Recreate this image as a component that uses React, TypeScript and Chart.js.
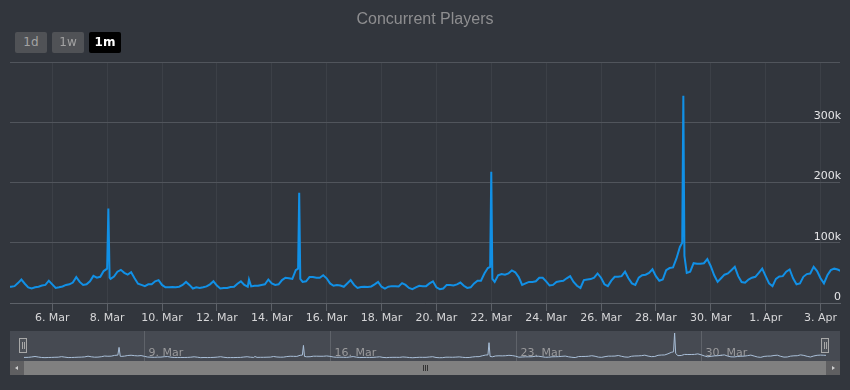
import React, { useEffect, useRef } from 'react';
import { Chart, registerables } from 'chart.js';

Chart.register(...registerables);

// Time axis in days since 1 Mar 00:00 (UTC). Samples every 3 hours from 4 Mar 09:00.
const START_DAY = 3.375;
const STEP_DAYS = 0.125;
const X_MIN = 3.46;
const X_MAX = 33.71;

const players: number[] = [
  // 4 Mar 09h..21h
  27000, 27000, 28000, 33000, 39000,
  // 5 Mar
  32000, 26000, 24000, 26000, 27000, 29000, 30000, 37000,
  // 6 Mar
  31000, 25000, 26000, 27500, 30000, 31000, 34000, 43000,
  // 7 Mar
  35000, 30000, 31000, 36000, 45000, 42000, 43500, 53000,
  // 8 Mar
  57000, 40000, 44000, 52000, 55000, 50000, 47000, 51000,
  // 9 Mar
  41000, 32000, 30000, 28000, 31000, 31000, 36000, 38000,
  // 10 Mar
  30000, 26000, 26000, 26500, 26000, 27000, 30000, 35000,
  // 11 Mar
  30000, 24000, 26000, 25000, 26000, 27500, 31000, 36000,
  // 12 Mar
  29000, 24000, 25000, 25000, 26500, 27000, 32000, 36000,
  // 13 Mar
  30000, 27000, 27500, 28500, 28500, 30000, 31000, 39000,
  // 14 Mar
  32500, 30000, 31000, 38000, 42000, 41000, 40000, 54500,
  // 15 Mar
  183000, 35000, 36000, 43000, 43000, 42000, 42000, 46000,
  // 16 Mar
  41000, 32500, 28600, 30000, 29000, 27000, 32500, 38000,
  // 17 Mar
  30000, 25000, 26500, 27000, 26500, 27500, 31000, 35000,
  // 18 Mar
  27000, 24000, 27000, 28000, 28000, 27500, 33000, 30000,
  // 19 Mar
  25000, 23000, 26000, 28600, 28000, 28000, 32500, 36000,
  // 20 Mar
  26000, 23000, 24000, 30000, 30000, 29000, 31000, 34000,
  // 21 Mar
  28600, 25000, 26000, 32500, 37000, 37000, 49000, 58000,
  // 22 Mar
  218000, 35000, 46000, 48000, 47000, 49000, 54000, 51000,
  // 23 Mar
  43000, 30000, 32500, 35000, 35000, 36000, 42000, 42000,
  // 24 Mar
  36000, 29000, 30000, 35000, 36000, 37000, 41000, 44600,
  // 25 Mar
  35000, 28600, 25000, 38000, 39000, 39700, 42000, 49000,
  // 26 Mar
  42000, 31000, 28000, 37000, 43500, 43500, 44600, 52000,
  // 27 Mar
  41000, 32500, 30000, 42000, 46000, 47000, 50000, 56000,
  // 28 Mar
  44600, 37000, 39000, 54500, 58000, 59000, 74000, 93000,
  // 29 Mar
  344000, 50000, 52000, 66000, 65000, 65000, 66000, 73000,
  // 30 Mar
  61000, 46000, 35000, 41000, 47000, 49000, 54500, 60000,
  // 31 Mar
  44600, 34700, 33600, 39000, 42000, 43500, 50000, 57000,
  // 1 Apr
  44600, 32500, 28000, 40000, 44000, 44600, 52000, 55600,
  // 2 Apr
  41000, 31000, 32500, 43500, 48000, 49000, 60000, 53000,
  // 3 Apr
  41000, 32500, 46000, 54500, 57000, 55600, 53000,
];

// Extra readings around the weekly spikes (day, players)
const spikeDays: number[] = [7.045, 7.09, 12.17, 13.96, 14.04, 20.96, 21.04, 27.96, 28.04];
const spikeValues: number[] = [157000, 42000, 39000, 57000, 40000, 60000, 40000, 100000, 78000];

const xTickDays: number[] = [5, 7, 9, 11, 13, 15, 17, 19, 21, 23, 25, 27, 29, 31, 33];
const xTickLabels: string[] = [
  '6. Mar', '8. Mar', '10. Mar', '12. Mar', '14. Mar', '16. Mar', '18. Mar', '20. Mar',
  '22. Mar', '24. Mar', '26. Mar', '28. Mar', '30. Mar', '1. Apr', '3. Apr',
];
const yTickValues: number[] = [0, 100000, 200000, 300000, 400000];
const yTickLabels: string[] = ['0', '100k', '200k', '300k', ''];
const navTickDays: number[] = [8, 15, 22, 29];
const navTickLabels: string[] = ['9. Mar', '16. Mar', '23. Mar', '30. Mar'];
const rangeButtons: string[] = ['1d', '1w', '1m'];
const selectedRange = '1m';
const chartTitle = 'Concurrent Players';

const BG = '#32363d';
const FONT = 'DejaVu Sans, Verdana, sans-serif';

function buildPoints() {
  const pts = players.map((v, i) => ({ x: START_DAY + i * STEP_DAYS, y: v }));
  spikeDays.forEach((d, i) => pts.push({ x: d, y: spikeValues[i] }));
  pts.sort((a, b) => a.x - b.x);
  return pts;
}

export default function App() {
  const mainRef = useRef<HTMLCanvasElement | null>(null);
  const navRef = useRef<HTMLCanvasElement | null>(null);

  useEffect(() => {
    const points = buildPoints();
    const peak = Math.max(...players);

    const main = new Chart(mainRef.current as HTMLCanvasElement, {
      type: 'line',
      data: {
        datasets: [
          {
            data: points,
            borderColor: '#1190e6',
            borderWidth: 2,
            pointRadius: 0,
            tension: 0,
            fill: false,
          },
        ],
      },
      options: {
        animation: false,
        responsive: false,
        events: [],
        layout: { padding: { left: 10, right: 10, top: 62, bottom: 0 } },
        plugins: { legend: { display: false }, tooltip: { enabled: false }, title: { display: false } },
        scales: {
          x: {
            type: 'linear',
            min: X_MIN,
            max: X_MAX,
            afterBuildTicks: (s: any) => {
              s.ticks = xTickDays.map((v) => ({ value: v }));
            },
            afterFit: (s: any) => {
              s.height = 27;
            },
            ticks: {
              autoSkip: false,
              maxRotation: 0,
              padding: 1,
              color: '#d6d6d8',
              font: { family: FONT, size: 11 },
              callback: (_v: any, i: number) => xTickLabels[i],
            },
            grid: { color: '#3c4047', tickColor: '#5d6168', tickLength: 8, drawTicks: true },
            border: { color: '#5d6168' },
          },
          y: {
            position: 'right',
            min: 0,
            max: 400000,
            afterBuildTicks: (s: any) => {
              s.ticks = yTickValues.map((v) => ({ value: v }));
            },
            afterFit: (s: any) => {
              s.width = 0;
            },
            ticks: {
              mirror: true,
              padding: 1,
              labelOffset: -6,
              color: '#e6e6e8',
              font: { family: FONT, size: 11 },
              callback: (_v: any, i: number) => yTickLabels[i],
            },
            grid: { color: '#51555c', drawTicks: false },
            border: { display: false },
          },
        },
      },
    });

    const navPlugin = {
      id: 'navGrid',
      beforeDatasetsDraw(chart: any) {
        const { ctx, scales, height } = chart;
        const xs = scales.x;
        ctx.save();
        ctx.strokeStyle = '#5f636a';
        ctx.lineWidth = 1;
        ctx.font = `11px ${FONT}`;
        ctx.fillStyle = '#9a9a9c';
        ctx.textBaseline = 'middle';
        ctx.textAlign = 'left';
        navTickDays.forEach((d, i) => {
          const px = Math.round(xs.getPixelForValue(d)) + 0.5;
          ctx.beginPath();
          ctx.moveTo(px, 0);
          ctx.lineTo(px, height);
          ctx.stroke();
          ctx.fillText(navTickLabels[i], px + 4, 22);
        });
        ctx.restore();
      },
    };

    const nav = new Chart(navRef.current as HTMLCanvasElement, {
      type: 'line',
      data: {
        datasets: [
          {
            data: points,
            borderColor: '#a9bfd8',
            borderWidth: 1,
            pointRadius: 0,
            tension: 0,
            fill: false,
          },
        ],
      },
      options: {
        animation: false,
        responsive: false,
        events: [],
        layout: { padding: { left: 14, right: 14, top: 2, bottom: 1.5 } },
        plugins: { legend: { display: false }, tooltip: { enabled: false } },
        scales: {
          x: { type: 'linear', min: X_MIN, max: X_MAX, display: false },
          y: { min: 0, max: peak, display: false },
        },
      },
      plugins: [navPlugin],
    });

    return () => {
      main.destroy();
      nav.destroy();
    };
  }, []);

  const handle = (left: number) => (
    <div
      style={{
        position: 'absolute',
        left,
        top: 338,
        width: 8,
        height: 15,
        boxSizing: 'border-box',
        border: '1px solid #a8a8a8',
        background: '#4e5259',
      }}
    >
      <div style={{ position: 'absolute', left: 1.5, top: 3, width: 1, height: 7, background: '#a8a8a8' }} />
      <div style={{ position: 'absolute', left: 3.5, top: 3, width: 1, height: 7, background: '#a8a8a8' }} />
    </div>
  );

  return (
    <div
      style={{
        position: 'fixed',
        left: 0,
        top: 0,
        width: 850,
        height: 390,
        background: BG,
        overflow: 'hidden',
      }}
    >
      <canvas ref={mainRef} width={850} height={330} style={{ position: 'absolute', left: 0, top: 0, display: 'block' }} />
      <div
        style={{
          position: 'absolute',
          left: 0,
          top: 9,
          width: 850,
          textAlign: 'center',
          font: '16px "Liberation Sans", Arial, sans-serif',
          lineHeight: '20px',
          color: '#8e8e90',
        }}
      >
        {chartTitle}
      </div>
      {rangeButtons.map((b, i) => {
        const sel = b === selectedRange;
        return (
          <div
            key={b}
            style={{
              position: 'absolute',
              left: 15 + i * 37,
              top: 32,
              width: 32,
              height: 21,
              borderRadius: 2,
              background: sel ? '#000000' : '#505256',
              color: sel ? '#ffffff' : '#a3a3a3',
              fontFamily: FONT,
              fontSize: 12,
              fontWeight: sel ? 'bold' : 'normal',
              lineHeight: '21px',
              textAlign: 'center',
            }}
          >
            {b}
          </div>
        );
      })}
      <div style={{ position: 'absolute', left: 10, top: 331, width: 830, height: 30, background: '#464a52' }} />
      <canvas ref={navRef} width={830} height={30} style={{ position: 'absolute', left: 10, top: 331, display: 'block' }} />
      {handle(19)}
      {handle(821)}
      <div style={{ position: 'absolute', left: 10, top: 361, width: 830, height: 14, background: '#808080' }} />
      <div style={{ position: 'absolute', left: 10, top: 361, width: 14, height: 14, background: '#5f5f61' }}>
        <div
          style={{
            position: 'absolute',
            left: 5,
            top: 4.5,
            width: 0,
            height: 0,
            borderTop: '2.5px solid transparent',
            borderBottom: '2.5px solid transparent',
            borderRight: '3px solid #d0d0d0',
          }}
        />
      </div>
      <div style={{ position: 'absolute', left: 826, top: 361, width: 14, height: 14, background: '#5f5f61' }}>
        <div
          style={{
            position: 'absolute',
            left: 6,
            top: 4.5,
            width: 0,
            height: 0,
            borderTop: '2.5px solid transparent',
            borderBottom: '2.5px solid transparent',
            borderLeft: '3px solid #d0d0d0',
          }}
        />
      </div>
      <div style={{ position: 'absolute', left: 423, top: 365, width: 1, height: 6, background: '#333' }} />
      <div style={{ position: 'absolute', left: 425, top: 365, width: 1, height: 6, background: '#333' }} />
      <div style={{ position: 'absolute', left: 427, top: 365, width: 1, height: 6, background: '#333' }} />
    </div>
  );
}
